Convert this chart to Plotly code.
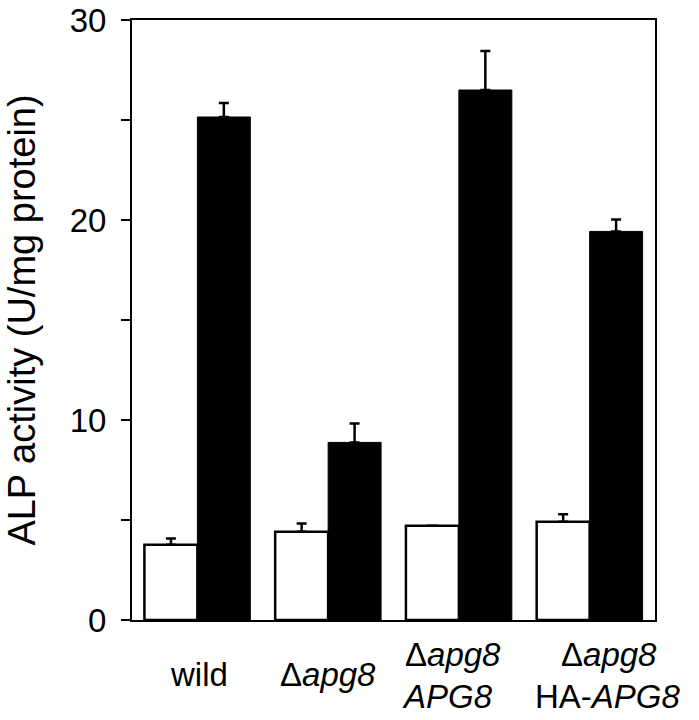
import plotly.graph_objects as go

# Data
categories = [0, 1, 2, 3]
control_values = [3.76, 4.41, 4.71, 4.91]
control_errors = [0.31, 0.41, 0.0, 0.38]
starved_values = [25.15, 8.88, 26.5, 19.43]
starved_errors = [0.70, 0.95, 1.95, 0.60]

label_line1 = ["wild", "Δ<i>apg8</i>", "Δ<i>apg8</i>", "Δ<i>apg8</i>"]
label_line2 = ["", "", "<i>APG8</i>", "HA-<i>APG8</i>"]

y_tickvals = [0, 5, 10, 15, 20, 25, 30]
y_ticktext = ["0", "", "10", "", "20", "", "30"]

FONT = "Liberation Sans, Arial, Helvetica, sans-serif"
LABEL_SIZE = 33

fig = go.Figure()
fig.add_trace(go.Bar(
    x=categories, y=control_values,
    marker=dict(color="white", line=dict(color="black", width=2.5)),
    error_y=dict(type="data", symmetric=False, array=control_errors,
                 arrayminus=[0] * len(control_errors),
                 color="black", thickness=2.5, width=5),
    showlegend=False,
))
fig.add_trace(go.Bar(
    x=categories, y=starved_values,
    marker=dict(color="black", line=dict(color="black", width=1)),
    error_y=dict(type="data", symmetric=False, array=starved_errors,
                 arrayminus=[0] * len(starved_errors),
                 color="black", thickness=2.5, width=5),
    showlegend=False,
))

annotations = []
xshift1 = [2, 0, -6, 19]
xshift2 = [0, 0, -11, 18]
for i, c in enumerate(categories):
    lab_font = dict(family=FONT, size=LABEL_SIZE, color="black")
    if label_line2[i]:
        annotations.append(dict(x=c, y=-0.057, xref="x", yref="paper", text=label_line1[i],
                                showarrow=False, xanchor="center", yanchor="middle",
                                xshift=xshift1[i], font=lab_font))
        annotations.append(dict(x=c, y=-0.128, xref="x", yref="paper", text=label_line2[i],
                                showarrow=False, xanchor="center", yanchor="middle",
                                xshift=xshift2[i], font=lab_font))
    else:
        annotations.append(dict(x=c, y=-0.09, xref="x", yref="paper", text=label_line1[i],
                                showarrow=False, xanchor="center", yanchor="middle",
                                xshift=xshift1[i], font=lab_font))

fig.update_layout(
    width=699, height=720,
    margin=dict(l=132, r=44, t=20, b=100, autoexpand=False),
    paper_bgcolor="white", plot_bgcolor="white",
    barmode="group", bargap=0.19, bargroupgap=0,
    font=dict(family=FONT, color="black"),
    annotations=annotations,
    xaxis=dict(range=[-0.5, 3.5], tickvals=categories, showticklabels=False,
               showline=True, linecolor="black", linewidth=2, mirror=True,
               ticks="", showgrid=False, zeroline=False, fixedrange=True,
               automargin=False),
    yaxis=dict(range=[0, 30], tickvals=y_tickvals, ticktext=y_ticktext,
               ticks="outside", ticklen=9, tickwidth=2, tickcolor="black",
               tickfont=dict(family=FONT, size=33, color="black"),
               ticklabelstandoff=8, automargin=False,
               showline=True, linecolor="black", linewidth=2, mirror=True,
               showgrid=False, zeroline=False,
               title=dict(text="ALP activity (U/mg protein)",
                          font=dict(family=FONT, size=38, color="black"),
                          standoff=22)),
)

fig.write_html("out.html",
               config={"displayModeBar": False},
               post_script="document.body.style.margin='0';document.body.style.overflow='hidden';")
